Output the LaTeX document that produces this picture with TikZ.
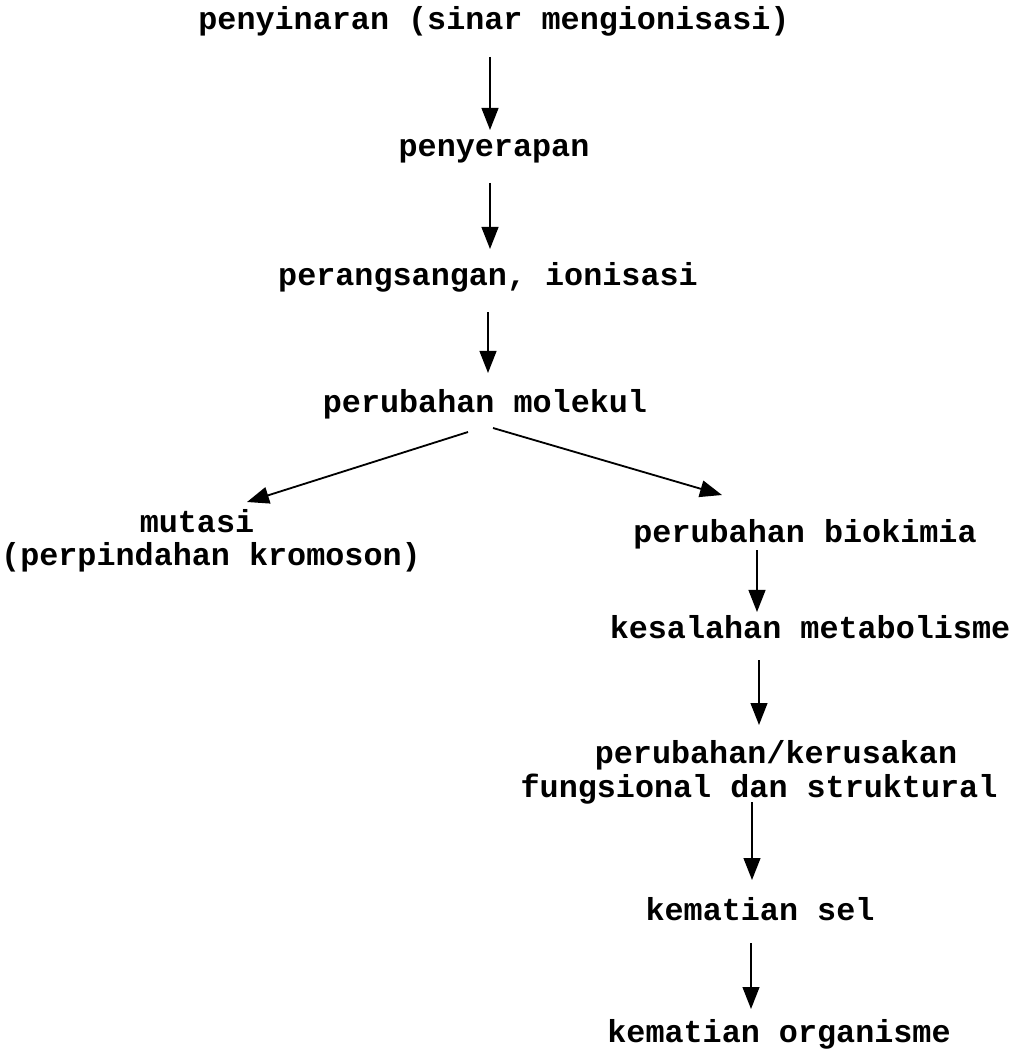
\documentclass[tikz,border=0pt]{standalone}
\usepackage{fontspec}
\setmonofont{Liberation Mono}
\usetikzlibrary{arrows.meta,calc}
\begin{document}
\begin{tikzpicture}[x=0.025cm,y=-0.025cm,
  lbl/.style={anchor=base,inner sep=0pt,font=\fontsize{22.6}{27}\selectfont\ttfamily\bfseries},
  arr/.style={line width=1.3pt,-{Triangle[width=0.42cm,length=0.55cm]}}]
\useasboundingbox[fill=white] (0,0) rectangle (1021,1050);
\node[lbl] (t1) at (494,30) {penyinaran (sinar mengionisasi)};
\node[lbl] (t2) at (494,157) {penyerapan};
\node[lbl] (t3) at (488,285) {perangsangan, ionisasi};
\node[lbl] (t4) at (485,412) {perubahan molekul};
\node[lbl] (mu) at (197,532) {mutasi};
\node[lbl] (mk) at (211,565) {(perpindahan kromoson)};
\node[lbl] (bio) at (805,542) {perubahan biokimia};
\node[lbl] (kes) at (810,638) {kesalahan metabolisme};
\node[lbl] (pk) at (776,763) {perubahan/kerusakan};
\node[lbl] (fs) at (759,797) {fungsional dan struktural};
\node[lbl] (ks) at (760,920) {kematian sel};
\node[lbl] (ko) at (779,1042) {kematian organisme};
\coordinate (colA) at (490,0);
\coordinate (colB) at (757,0);
\draw[arr] ($(t1.base -| colA)+(0,27)$) -- ($(t2.base -| colA)+(0,-27)$);
\draw[arr] ($(t2.base -| colA)+(0,26)$) -- ($(t3.base -| colA)+(0,-36)$);
\draw[arr] ($(t3.base -| colA)+(-2,27)$) -- ($(t4.base -| colA)+(-2,-39)$);
\draw[arr] ($(t4.base)+(-17,20)$) -- ($(mu.base)+(50,-30)$);
\draw[arr] ($(t4.base)+(8,16)$) -- ($(bio.base)+(-83,-47)$);
\draw[arr] ($(bio.base -| colB)+(0,8)$) -- ($(kes.base -| colB)+(0,-26)$);
\draw[arr] ($(kes.base -| colB)+(2,22)$) -- ($(pk.base -| colB)+(2,-38)$);
\draw[arr] ($(fs.base -| colB)+(-5,5)$) -- ($(ks.base -| colB)+(-5,-40)$);
\draw[arr] ($(ks.base -| colB)+(-6,23)$) -- ($(ko.base -| colB)+(-6,-33)$);
\end{tikzpicture}
\end{document}
